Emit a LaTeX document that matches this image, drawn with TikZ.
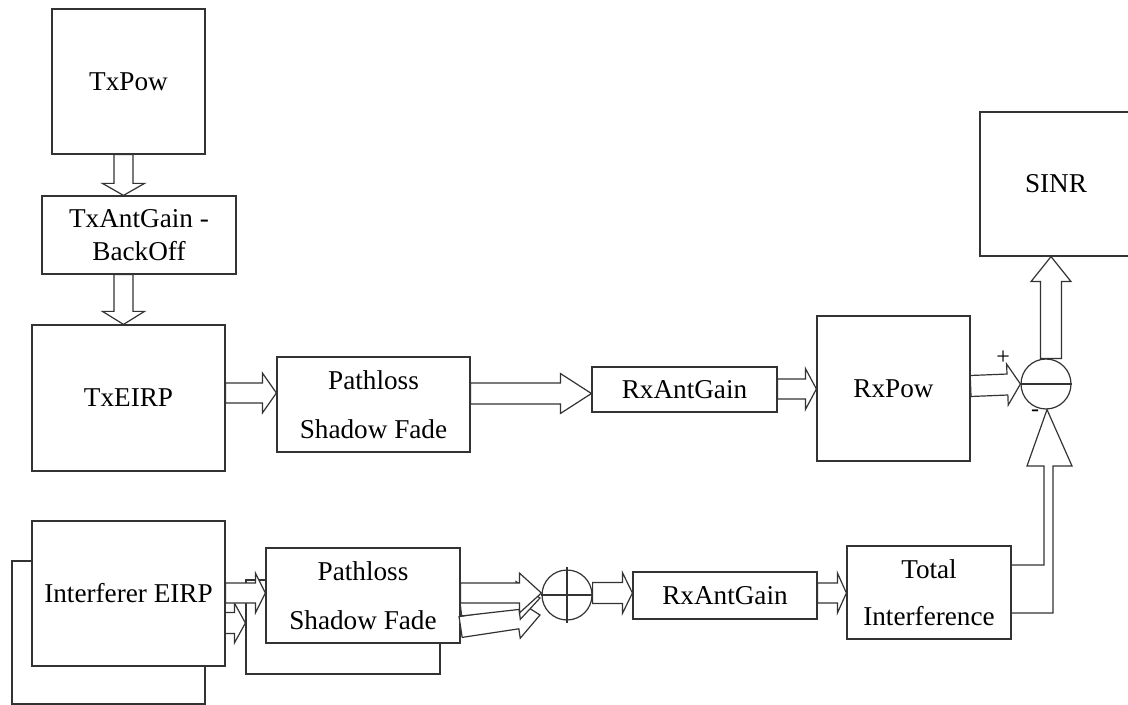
\documentclass[tikz,border=0pt]{standalone}
\usepackage{fontspec}
\setmainfont{Liberation Serif}
\usetikzlibrary{calc}
% block arrow: #1 start, #2 tip, #3 shaft half width, #4 head half width, #5 head length
\newcommand\barrow[5]{%
  \coordinate (baA) at (#1);
  \coordinate (baB) at (#2);
  \coordinate (baH) at ($(baB)!#5!(baA)$);
  \draw[arr] ($(baA)!#3!90:(baB)$) -- ($(baH)!#3!-90:(baA)$) -- ($(baH)!#4!-90:(baA)$)
    -- (baB) -- ($(baH)!#4!90:(baA)$) -- ($(baH)!#3!90:(baA)$) -- ($(baA)!#3!-90:(baB)$) -- cycle;}
\tikzset{
  blk/.style={draw=black!80, line width=0.6pt, fill=white, inner sep=0pt, align=center,
    font=\fontsize{13.6}{16}\selectfont},
  arr/.style={draw=black!80, line width=0.6pt, fill=white, line join=miter},
  junc/.style={circle, draw=black!80, line width=0.6pt, fill=white, minimum size=25pt, inner sep=0pt},
  jline/.style={draw=black!80, line width=0.6pt},
  lbl/.style={font=\fontsize{12}{14}\selectfont, inner sep=0pt}
}
\begin{document}
\begin{tikzpicture}[x=0.5pt,y=-0.5pt]
\useasboundingbox (0,0) rectangle (1128,705);
% ---- upper chain ----
\node[blk, minimum width=76pt, minimum height=72pt] (sinr) at (1056,184) {SINR};
\node[blk, minimum width=76.5pt, minimum height=72.5pt] (txpow) at (128.5,81.5) {TxPow};
\node[blk, minimum width=97pt, minimum height=39pt,
      font=\fontsize{13.6}{16.5}\selectfont] (txant) at (139,235) {TxAntGain -\\BackOff};
\node[blk, minimum width=96.5pt, minimum height=73pt] (txeirp) at (128.5,398) {TxEIRP};
\node[blk, minimum width=96.5pt, minimum height=47.5pt,
      font=\fontsize{13.6}{24.5}\selectfont] (pl1) at (373.5,404.5) {Pathloss\\Shadow Fade};
\node[blk, minimum width=92.5pt, minimum height=22.5pt] (rxant1) at (684.5,389.5) {RxAntGain};
\node[blk, minimum width=76.5pt, minimum height=72.5pt] (rxpow) at (893.5,388.5) {RxPow};
\node[junc] (sum) at (1046,384) {};
\draw[jline] (sum.west) -- (sum.east);
\node[lbl] (plus) at (1003,358) {+};
\node[lbl] (minus) at (1035,413) {-};

\barrow{123.5,0 |- txpow.south}{123.5,0 |- txant.north}{4.75pt}{10.5pt}{6pt}
\barrow{123.5,0 |- txant.south}{123.5,0 |- txeirp.north}{4.75pt}{10.5pt}{6.5pt}
\barrow{txeirp.east |- 0,393}{pl1.west |- 0,393}{5pt}{10pt}{7pt}
\barrow{pl1.east |- 0,393.5}{rxant1.west |- 0,393.5}{5.25pt}{10pt}{15.5pt}
\barrow{rxant1.east |- 0,389}{rxpow.west |- 0,389}{5pt}{10.25pt}{5.5pt}
\barrow{rxpow.east |- 0,386}{sum.west}{5.25pt}{10.25pt}{6.5pt}
\barrow{1051,0 |- sum.north}{1051,0 |- sinr.south}{5.25pt}{10pt}{12.5pt}

% ---- interferer chain ----
\node[blk, minimum width=96.5pt, minimum height=71.5pt] (intfback) at (108.5,632.5) {};
\node[blk, minimum width=97pt, minimum height=47pt] (pl2back) at (343,627) {};
\barrow{intfback.east |- 0,623}{pl2back.west |- 0,623}{5.25pt}{10pt}{5.5pt}
\node[blk, minimum width=96.5pt, minimum height=72.5pt] (intf) at (128.5,593.5) {Interferer EIRP};
\node[blk, minimum width=97pt, minimum height=47.5pt,
      font=\fontsize{13.6}{24.5}\selectfont] (pl2) at (363,595.5) {Pathloss\\Shadow Fade};
\barrow{intf.east |- 0,593}{pl2.west |- 0,593}{5pt}{10pt}{5pt}

\node[junc] (comb) at (567,595) {};
\draw[jline] (comb.west) -- (comb.east);
\draw[jline] ([yshift=1pt]comb.north) -- ([yshift=-1pt]comb.south);
\coordinate (p3tip) at (540,615);
\coordinate (p2tip) at (540,598);
\barrow{pl2.east |- 0,627}{p3tip}{5.25pt}{10pt}{11.5pt}
\barrow{pl2.east |- 0,607}{p2tip}{4.5pt}{9.5pt}{11pt}
\barrow{pl2.east |- 0,593}{comb.west |- 0,593}{5pt}{10pt}{11pt}

\node[blk, minimum width=92pt, minimum height=23.5pt] (rxant2) at (725,595.5) {RxAntGain};
\node[blk, minimum width=82pt, minimum height=46.5pt,
      font=\fontsize{13.6}{23.5}\selectfont] (totint) at (929,592.5) {Total\\Interference};
\barrow{comb.east |- 0,593}{rxant2.west |- 0,593}{5.25pt}{10.25pt}{5pt}
\barrow{rxant2.east |- 0,593}{totint.west |- 0,593}{5pt}{10pt}{4.5pt}

% bent arrow from Total Interference up into the summing junction
\draw[arr, fill=none] (totint.east |- 0,565) -- (1044,565) -- (1044,466) -- (1027,466)
  -- (1047,0 |- sum.south) -- (1072,466) -- (1053,466) -- (1053,613) -- (totint.east |- 0,613);
\end{tikzpicture}
\end{document}
